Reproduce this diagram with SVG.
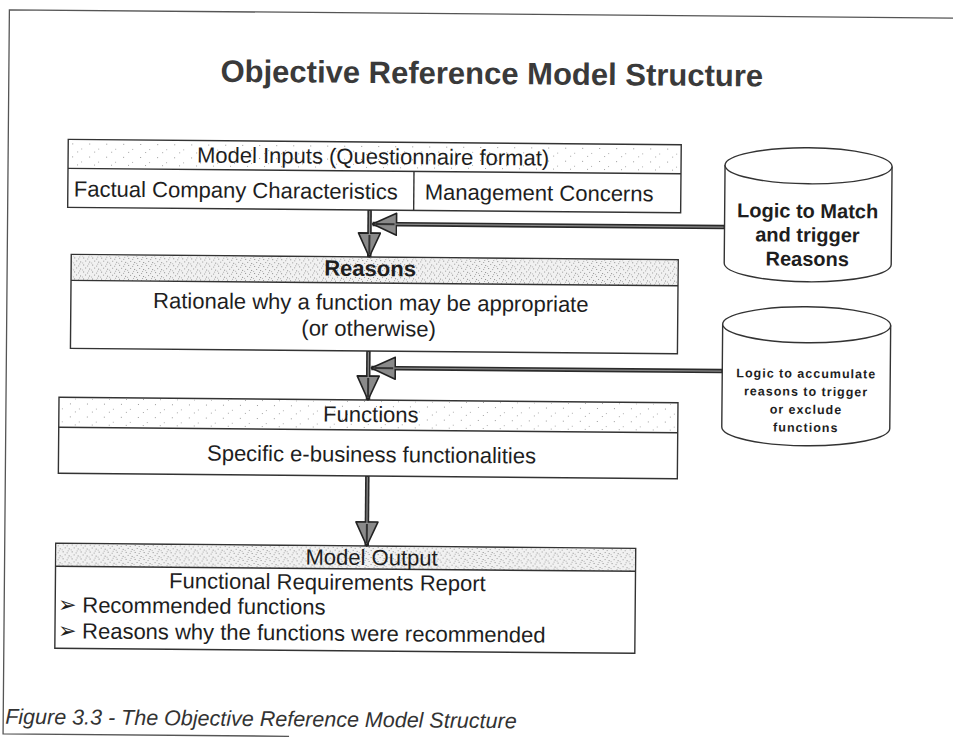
<svg xmlns="http://www.w3.org/2000/svg" width="953" height="753" viewBox="0 0 953 753">
  <defs>
    <!-- light grain used on the plain header rows -->
    <pattern id="grainLight" width="17" height="13" patternUnits="userSpaceOnUse">
      <rect x="2" y="3" width="1" height="1" fill="#9a9a9a"/>
      <rect x="11" y="8" width="1" height="1" fill="#b0b0b0"/>
      <rect x="7" y="11" width="1" height="1" fill="#a5a5a5"/>
    </pattern>
    <!-- denser grain used on the shaded header rows -->
    <pattern id="grainDense" width="9" height="7" patternUnits="userSpaceOnUse">
      <rect x="0" y="0" width="9" height="7" fill="#f1f1f1"/>
      <rect x="1" y="1" width="1" height="1" fill="#8c8c8c"/>
      <rect x="5" y="2" width="1" height="1" fill="#a0a0a0"/>
      <rect x="3" y="4" width="1" height="1" fill="#999"/>
      <rect x="7" y="5" width="1" height="1" fill="#8a8a8a"/>
      <rect x="0" y="6" width="1" height="1" fill="#b4b4b4"/>
      <rect x="6" y="0" width="1" height="1" fill="#aaa"/>
    </pattern>
    <!-- grey filled arrowhead, tip at the end of the line -->
    <marker id="head" viewBox="0 0 26 24" refX="25" refY="12" markerWidth="26" markerHeight="24" markerUnits="userSpaceOnUse" orient="auto">
      <path d="M1,1 L25,12 L1,23 Z" fill="#8a8a8a" stroke="#222" stroke-width="1.6" stroke-linejoin="round"/>
      <path d="M3,12 L22,12" stroke="#333" stroke-width="2"/>
    </marker>
  </defs>
  <style>
    .frame { fill: none; stroke: #555; stroke-width: 1.3; }
    .box { fill: #fff; stroke: #333; stroke-width: 1.4; }
    .rule { stroke: #333; stroke-width: 1.4; }
    .title { font-family: "Liberation Sans", Arial, sans-serif; font-weight: bold; font-size: 31px; fill: #3a3a3a; text-anchor: middle; }
    .txt { font-family: "Liberation Sans", Arial, sans-serif; font-size: 22px; fill: #1e1e1e; }
    .mid { text-anchor: middle; }
    .bold { font-weight: bold; }
    .cyl { fill: #fff; stroke: #333; stroke-width: 1.4; }
    .cyl1 { font-family: "Liberation Sans", Arial, sans-serif; font-weight: bold; font-size: 20px; fill: #1e1e1e; text-anchor: middle; }
    .cyl2 { font-family: "Liberation Sans", Arial, sans-serif; font-weight: bold; font-size: 12.5px; letter-spacing: 1px; fill: #1e1e1e; text-anchor: middle; }
    .shaft { stroke: #2a2a2a; stroke-width: 4.5; fill: none; }
    .core { stroke: #8a8a8a; stroke-width: 1.2; fill: none; }
    .caption { font-family: "Liberation Sans", Arial, sans-serif; font-style: italic; font-size: 21.5px; fill: #333; }
  </style>

  <g transform="rotate(0.5 370 400)">
    <!-- page frame -->
    <path class="frame" d="M953,13 L6,13 L6,737 L292,737"/>

    <text class="title" x="489" y="83">Objective Reference Model Structure</text>

    <!-- model inputs -->
    <g id="model-inputs">
      <rect class="box" x="66" y="142" width="613" height="68"/>
      <rect x="67" y="143" width="611" height="28" fill="url(#grainLight)"/>
      <line class="rule" x1="66" y1="171" x2="679" y2="171"/>
      <line class="rule" x1="412" y1="171" x2="412" y2="210"/>
      <text class="txt mid" x="371" y="164">Model Inputs (Questionnaire format)</text>
      <text class="txt" x="72" y="199" font-size="22.5">Factual Company Characteristics</text>
      <text class="txt" x="423" y="199" font-size="22.5">Management Concerns</text>
    </g>

    <!-- reasons -->
    <g id="reasons">
      <rect class="box" x="70" y="257" width="607" height="94"/>
      <rect x="71" y="258" width="605" height="25" fill="url(#grainDense)"/>
      <line class="rule" x1="70" y1="283" x2="677" y2="283"/>
      <text class="txt mid bold" x="369" y="276" font-size="20">Reasons</text>
      <text class="txt mid" x="370" y="310">Rationale why a function may be appropriate</text>
      <text class="txt mid" x="368" y="336">(or otherwise)</text>
    </g>

    <!-- functions -->
    <g id="functions">
      <rect class="box" x="59" y="400" width="619" height="76"/>
      <rect x="60" y="401" width="617" height="28" fill="url(#grainLight)"/>
      <line class="rule" x1="59" y1="430" x2="678" y2="430"/>
      <text class="txt mid" x="371" y="422">Functions</text>
      <text class="txt mid" x="372" y="462">Specific e-business functionalities</text>
    </g>

    <!-- model output -->
    <g id="model-output">
      <rect class="box" x="57" y="546" width="580" height="105"/>
      <rect x="58" y="547" width="578" height="22" fill="url(#grainDense)"/>
      <line class="rule" x1="57" y1="569" x2="637" y2="569"/>
      <text class="txt mid" x="373" y="565">Model Output</text>
      <text class="txt mid" x="329" y="590" font-size="22.5">Functional Requirements Report</text>
      <text class="txt" x="60" y="615">➢ Recommended functions</text>
      <text class="txt" x="60" y="641">➢ Reasons why the functions were recommended</text>
    </g>

    <!-- rule stores -->
    <g id="match-logic">
      <path class="cyl" d="M723,162 L723,260 A83.5,18 0 0 0 890,260 L890,162"/>
      <ellipse class="cyl" cx="806.5" cy="162" rx="83.5" ry="18"/>
      <text class="cyl1" x="806" y="214">Logic to Match</text>
      <text class="cyl1" x="806" y="238">and trigger</text>
      <text class="cyl1" x="806" y="262">Reasons</text>
    </g>

    <g id="accumulate-logic">
      <path class="cyl" d="M722,321 L722,424 A84,18 0 0 0 890,424 L890,321"/>
      <ellipse class="cyl" cx="806" cy="321" rx="84" ry="18"/>
      <text class="cyl2" x="806" y="374">Logic to accumulate</text>
      <text class="cyl2" x="806" y="392">reasons to trigger</text>
      <text class="cyl2" x="806" y="410">or exclude</text>
      <text class="cyl2" x="806" y="428">functions</text>
    </g>

    <!-- connectors -->
    <g id="connectors">
      <line class="shaft" x1="368" y1="210" x2="368" y2="257" marker-end="url(#head)"/>
      <line class="shaft" x1="723" y1="224" x2="371" y2="224" marker-end="url(#head)"/>
      <line class="shaft" x1="368" y1="351" x2="368" y2="400" marker-end="url(#head)"/>
      <line class="shaft" x1="722" y1="368" x2="371" y2="368" marker-end="url(#head)"/>
      <line class="shaft" x1="368" y1="476" x2="368" y2="546" marker-end="url(#head)"/>
      <path class="core" d="M368,211 V234 M722,224 H394 M368,352 V377 M721,368 H394 M368,477 V523"/>
    </g>

    <text class="caption" x="8" y="727">Figure 3.3 - The Objective Reference Model Structure</text>
  </g>
</svg>
